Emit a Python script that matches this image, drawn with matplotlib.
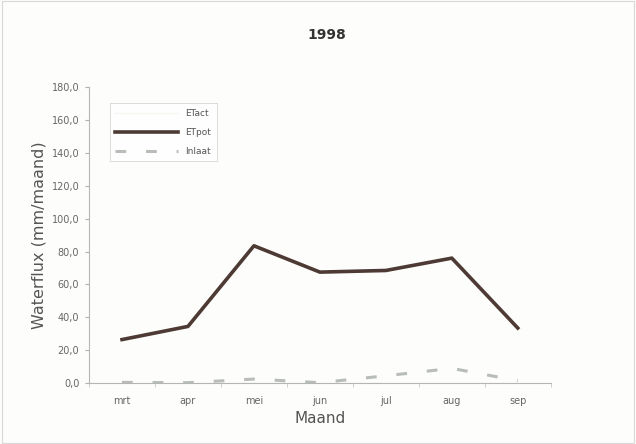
import matplotlib.pyplot as plt
import numpy as np

maanden = ['mrt', 'apr', 'mei', 'jun', 'jul', 'aug', 'sep']
et_pot = [26.5, 34.5, 83.5, 67.5, 68.5, 76.0, 33.5]
et_act = [0.0, 0.0, 0.0, 0.0, 0.0, 0.0, 0.0]
inlaat = [0.5, 0.3, 2.5, 0.3, 4.5, 9.0, 1.5]

fig = plt.figure(figsize=(6.36, 4.44), dpi=100, facecolor='#fdfdfb')
ax = fig.add_axes([0.140, 0.137, 0.726, 0.667])
ax.set_facecolor('#fdfdfb')

x = np.arange(len(maanden))
ax.plot(x, et_act, color='#f4f4f0', lw=1.0, label='ETact')
ax.plot(x, et_pot, color='#4d3a34', lw=2.6, label='ETpot')
ax.plot(x, inlaat, color='#b8bdb8', lw=2.2, dashes=(3.5, 6.5), label='Inlaat')

ax.set_xlim(-0.5, len(maanden) - 0.5)
ax.set_ylim(0, 180)
ax.set_yticks(np.arange(0, 181, 20))
ax.set_yticklabels([f'{v:.1f}'.replace('.', ',') for v in np.arange(0, 181, 20)])
ax.set_xticks(x)
ax.set_xticklabels(maanden)
# category boundary ticks, Excel style
ax.set_xticks(np.arange(-0.5, len(maanden), 1), minor=True)
ax.tick_params(axis='x', which='major', length=0, pad=9)
ax.tick_params(axis='x', which='minor', length=3, color='#c8c8c8')
ax.tick_params(axis='y', length=3, color='#b0b0b0', pad=4)
ax.tick_params(labelsize=7, labelcolor='#666666')

for side in ['top', 'right']:
    ax.spines[side].set_visible(False)
for side in ['left', 'bottom']:
    ax.spines[side].set_color('#b5b5b5')
    ax.spines[side].set_linewidth(0.8)

ax.set_xlabel('Maand', fontsize=11, color='#555555', labelpad=4)
ax.set_ylabel('Waterflux (mm/maand)', fontsize=11.5, color='#555555', labelpad=4)
fig.text(0.514, 0.921, '1998', ha='center', va='center', fontsize=10,
         fontweight='bold', color='#333333')

leg = ax.legend(loc='upper left', bbox_to_anchor=(0.035, 0.96), fontsize=6.5,
                handlelength=7, markerfirst=True, frameon=True, fancybox=False,
                edgecolor='#cccccc', borderpad=0.6, labelspacing=1.1)
leg.get_frame().set_linewidth(0.6)
for t in leg.get_texts():
    t.set_color('#555555')

border = plt.Rectangle((0.003, 0.003), 0.994, 0.994, transform=fig.transFigure,
                       fill=False, edgecolor='#d8d8d8', lw=0.8)
fig.patches.append(border)

fig.savefig('out.png', dpi=100, facecolor=fig.get_facecolor())
